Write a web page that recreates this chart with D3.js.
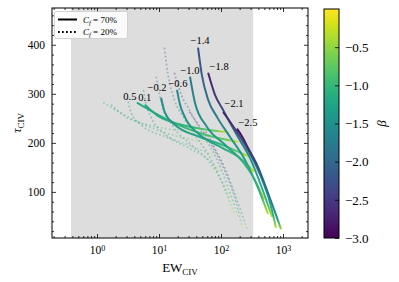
<!DOCTYPE html>
<html>
<head>
<meta charset="utf-8">
<script src="https://cdn.jsdelivr.net/npm/d3@7"></script>
<style>
  body { margin: 0; background: #fff; }
  svg text { font-family: "Liberation Serif", "DejaVu Serif", serif; fill: #000; }
</style>
</head>
<body>
<svg id="chart" width="399" height="282"></svg>
<script>
// label printed at the top of every model curve
var curveLabels = [0.5, 0.1, -0.2, -0.6, -1.0, -1.4, -1.8, -2.1, -2.5];

// C_f = 70% (solid) : EW and tau along each curve
var ewSolid = [
  [4.4, 10.4, 26, 66, 188],
  [5.9, 9.6, 20, 46, 120],
  [10.8, 12.5, 18, 46, 104, 272],
  [19.5, 21.8, 26, 46, 104, 202, 341],
  [31.6, 38, 59, 116, 226, 367, 494],
  [42.6, 49, 62, 86, 140, 244, 395, 573],
  [62, 80, 108, 188, 294, 458, 665],
  [108, 140, 181, 272, 426, 617, 771],
  [181, 226, 272, 395, 573, 771, 929]
];
var tauSolid = [
  [282, 255, 231, 214, 202],
  [278, 255, 239, 229, 222],
  [292, 261, 237, 212, 196, 173],
  [308, 278, 253, 216, 190, 169, 141],
  [335, 282, 233, 196, 161, 120, 84],
  [394, 339, 288, 253, 212, 165, 108, 55],
  [343, 298, 267, 212, 169, 108, 49],
  [263, 243, 222, 186, 135, 78, 27],
  [229, 210, 190, 151, 98, 53, 24]
];

// C_f = 20% (dotted)
var ewDotted = [
  [1.26, 2.97, 7.4, 18.9, 54],
  [1.69, 2.74, 5.7, 13.1, 34],
  [3.09, 3.57, 5.1, 13.1, 29.7, 78],
  [5.6, 6.2, 7.4, 13.1, 29.7, 58, 97],
  [9.0, 10.9, 16.9, 33, 65, 105, 141],
  [12.2, 14.0, 17.7, 24.6, 40, 70, 113, 164],
  [17.7, 22.9, 30.9, 54, 84, 131, 190],
  [30.9, 40, 52, 78, 122, 176, 220],
  [52, 65, 78, 113, 164, 220, 265]
];
var tauDotted = [
  [282, 255, 231, 214, 202],
  [278, 255, 239, 229, 222],
  [292, 261, 237, 212, 196, 173],
  [308, 278, 253, 216, 190, 169, 141],
  [335, 282, 233, 196, 161, 120, 84],
  [394, 339, 288, 253, 212, 165, 108, 55],
  [343, 298, 267, 212, 169, 108, 49],
  [263, 243, 222, 186, 135, 78, 27],
  [229, 210, 190, 151, 98, 53, 24]
];

// beta along each curve: start, body, near the tip, tip
var betaAlong = [
  [-1.15, -0.95, -0.7, -0.2],
  [-1.3, -1.0, -0.7, -0.15],
  [-1.55, -1.15, -0.8, -0.2],
  [-1.6, -1.2, -0.85, -0.2],
  [-1.8, -1.25, -0.9, -0.25],
  [-2.3, -1.4, -1.0, -0.3],
  [-2.75, -1.5, -1.0, -0.3],
  [-2.75, -1.6, -1.1, -0.35],
  [-2.9, -1.9, -1.4, -0.5]
];

// EW window shaded in grey
var ewBand = [0.38, 330];
var betaTicks = [-3.0, -2.5, -2.0, -1.5, -1.0, -0.5];
var legendItems = ["70%", "20%"];

// ---- layout ----
var L = 52, R = 308, T = 8, B = 238;
var labelOffsets = [[-7, -3], [0, -4], [-4, -7], [1, -3], [0, -3], [2, -4], [11, -3], [11, -5], [11, -3]];
var gradStops = [0, 0.6, 0.9, 1];

var svg = d3.select("#chart");
var defs = svg.append("defs");

var x = d3.scaleLog().domain([0.188, 2530]).range([L, R]);
var y = d3.scaleLinear().domain([6, 475]).range([B, T]);
var color = d3.scaleSequential(d3.interpolateViridis).domain([-3, 0]);

defs.append("clipPath").attr("id", "plotclip")
  .append("rect").attr("x", L).attr("y", T).attr("width", R - L).attr("height", B - T);

// grey band
svg.append("rect")
  .attr("x", x(ewBand[0])).attr("y", T)
  .attr("width", x(ewBand[1]) - x(ewBand[0])).attr("height", B - T)
  .attr("fill", "#dddddd");

var line = d3.line()
  .x(d => x(d[0]))
  .y(d => y(d[1]))
  .curve(d3.curveMonotoneX);

function addGradient(id, pts, betas) {
  var p0 = pts[0], p1 = pts[pts.length - 1];
  var g = defs.append("linearGradient").attr("id", id)
    .attr("gradientUnits", "userSpaceOnUse")
    .attr("x1", x(p0[0])).attr("y1", y(p0[1]))
    .attr("x2", x(p1[0])).attr("y2", y(p1[1]));
  betas.forEach((b, k) => {
    g.append("stop").attr("offset", gradStops[k]).attr("stop-color", color(b));
  });
}

var curves = svg.append("g").attr("clip-path", "url(#plotclip)");

// dotted (C_f = 20%) behind
ewDotted.forEach((ews, i) => {
  var pts = ews.map((e, k) => [e, tauDotted[i][k]]);
  addGradient("gd" + i, pts, betaAlong[i]);
  curves.append("path")
    .attr("d", line(pts))
    .attr("fill", "none")
    .attr("stroke", "url(#gd" + i + ")")
    .attr("stroke-width", 1.7)
    .attr("stroke-dasharray", "1.7,2.3")
    .attr("opacity", 0.4);
});

// solid (C_f = 70%)
ewSolid.forEach((ews, i) => {
  var pts = ews.map((e, k) => [e, tauSolid[i][k]]);
  addGradient("gs" + i, pts, betaAlong[i]);
  curves.append("path")
    .attr("d", line(pts))
    .attr("fill", "none")
    .attr("stroke", "url(#gs" + i + ")")
    .attr("stroke-width", 2);
});

// curve labels
var fmt = d3.format(".1f");
svg.append("g").selectAll("text")
  .data(curveLabels)
  .join("text")
  .attr("x", (d, i) => x(ewSolid[i][0]) + labelOffsets[i][0])
  .attr("y", (d, i) => y(tauSolid[i][0]) + labelOffsets[i][1])
  .attr("text-anchor", "middle")
  .attr("font-size", 10.5)
  .text(d => fmt(d));

// ---- axes ----
var xMajor = [1, 10, 100, 1000];
var xMinor = x.ticks().filter(v => xMajor.indexOf(v) < 0);
var yMajor = [100, 200, 300, 400];
var yMinor = d3.range(20, 475, 20).filter(v => v % 100 !== 0);

function clean(g) {
  g.select(".domain").remove();
  g.selectAll(".tick line").attr("stroke", "#000").attr("stroke-width", 0.8);
  g.attr("font-family", null);
}

// bottom
var gxb = svg.append("g").attr("transform", "translate(0," + B + ")")
  .call(d3.axisBottom(x).tickValues(xMajor).tickSize(-4).tickPadding(8).tickFormat(() => ""))
  .call(clean).attr("font-size", 11.5);
gxb.selectAll(".tick text").each(function(d) {
  var t = d3.select(this);
  t.append("tspan").text("10");
  t.append("tspan").attr("dy", "-0.45em").attr("font-size", 8).text(Math.round(Math.log10(d)));
});
svg.append("g").attr("transform", "translate(0," + B + ")")
  .call(d3.axisBottom(x).tickValues(xMinor).tickSize(-2).tickFormat(() => "")).call(clean);
// top
svg.append("g").attr("transform", "translate(0," + T + ")")
  .call(d3.axisTop(x).tickValues(xMajor).tickSize(-4).tickFormat(() => "")).call(clean);
svg.append("g").attr("transform", "translate(0," + T + ")")
  .call(d3.axisTop(x).tickValues(xMinor).tickSize(-2).tickFormat(() => "")).call(clean);
// left
svg.append("g").attr("transform", "translate(" + L + ",0)")
  .call(d3.axisLeft(y).tickValues(yMajor).tickSize(-4).tickPadding(7).tickFormat(d3.format("d")))
  .call(clean).attr("font-size", 11.5);
svg.append("g").attr("transform", "translate(" + L + ",0)")
  .call(d3.axisLeft(y).tickValues(yMinor).tickSize(-2).tickFormat(() => "")).call(clean);
// right
svg.append("g").attr("transform", "translate(" + R + ",0)")
  .call(d3.axisRight(y).tickValues(yMajor).tickSize(-4).tickFormat(() => "")).call(clean);
svg.append("g").attr("transform", "translate(" + R + ",0)")
  .call(d3.axisRight(y).tickValues(yMinor).tickSize(-2).tickFormat(() => "")).call(clean);

// frame
svg.append("rect").attr("x", L).attr("y", T).attr("width", R - L).attr("height", B - T)
  .attr("fill", "none").attr("stroke", "#000").attr("stroke-width", 1);

// axis labels
var xl = svg.append("text").attr("x", (L + R) / 2).attr("y", 272)
  .attr("text-anchor", "middle").attr("font-size", 13);
xl.append("tspan").text("EW");
xl.append("tspan").attr("dy", 3).attr("font-size", 9).text("CIV");

var yl = svg.append("text").attr("transform", "translate(21," + ((T + B) / 2) + ") rotate(-90)")
  .attr("text-anchor", "middle").attr("font-size", 13);
yl.append("tspan").attr("font-style", "italic").text("τ");
yl.append("tspan").attr("dy", 3).attr("font-size", 9).text("CIV");

// ---- legend ----
var lg = svg.append("g");
lg.append("rect").attr("x", 54.5).attr("y", 11.5).attr("width", 73).attr("height", 27).attr("rx", 2)
  .attr("fill", "#fff").attr("fill-opacity", 0.85).attr("stroke", "#cccccc").attr("stroke-width", 0.8);
legendItems.forEach((v, i) => {
  var yy = 19.5 + i * 12.5;
  lg.append("line").attr("x1", 58).attr("x2", 77).attr("y1", yy).attr("y2", yy)
    .attr("stroke", "#000").attr("stroke-width", 2)
    .attr("stroke-dasharray", i === 1 ? "1.7,2.3" : null);
  var t = lg.append("text").attr("x", 83).attr("y", yy + 3).attr("font-size", 9);
  t.append("tspan").attr("font-style", "italic").text("C");
  t.append("tspan").attr("font-style", "italic").attr("font-size", 6.5).attr("dy", 2).text("f");
  t.append("tspan").attr("dy", -2).text(" = " + v);
});

// ---- colorbar ----
var cbL = 324, cbR = 339, cbT = 9, cbB = 238;
var cy = d3.scaleLinear().domain([-3, 0]).range([cbB, cbT]);
var cg = defs.append("linearGradient").attr("id", "cbar")
  .attr("x1", 0).attr("y1", 1).attr("x2", 0).attr("y2", 0);
d3.range(0, 1.0001, 0.05).forEach(t => {
  cg.append("stop").attr("offset", t).attr("stop-color", d3.interpolateViridis(t));
});
svg.append("rect").attr("x", cbL).attr("y", cbT).attr("width", cbR - cbL).attr("height", cbB - cbT)
  .attr("fill", "url(#cbar)").attr("stroke", "#000").attr("stroke-width", 1);
svg.append("g").attr("transform", "translate(" + cbR + ",0)")
  .call(d3.axisRight(cy).tickValues(betaTicks).tickSize(-4).tickPadding(6).tickFormat(d3.format(".1f")))
  .call(clean).attr("font-size", 13);
svg.append("text").attr("transform", "translate(386," + ((cbT + cbB) / 2) + ") rotate(-90)")
  .attr("text-anchor", "middle").attr("font-size", 13).attr("font-style", "italic").text("β");
</script>
</body>
</html>
